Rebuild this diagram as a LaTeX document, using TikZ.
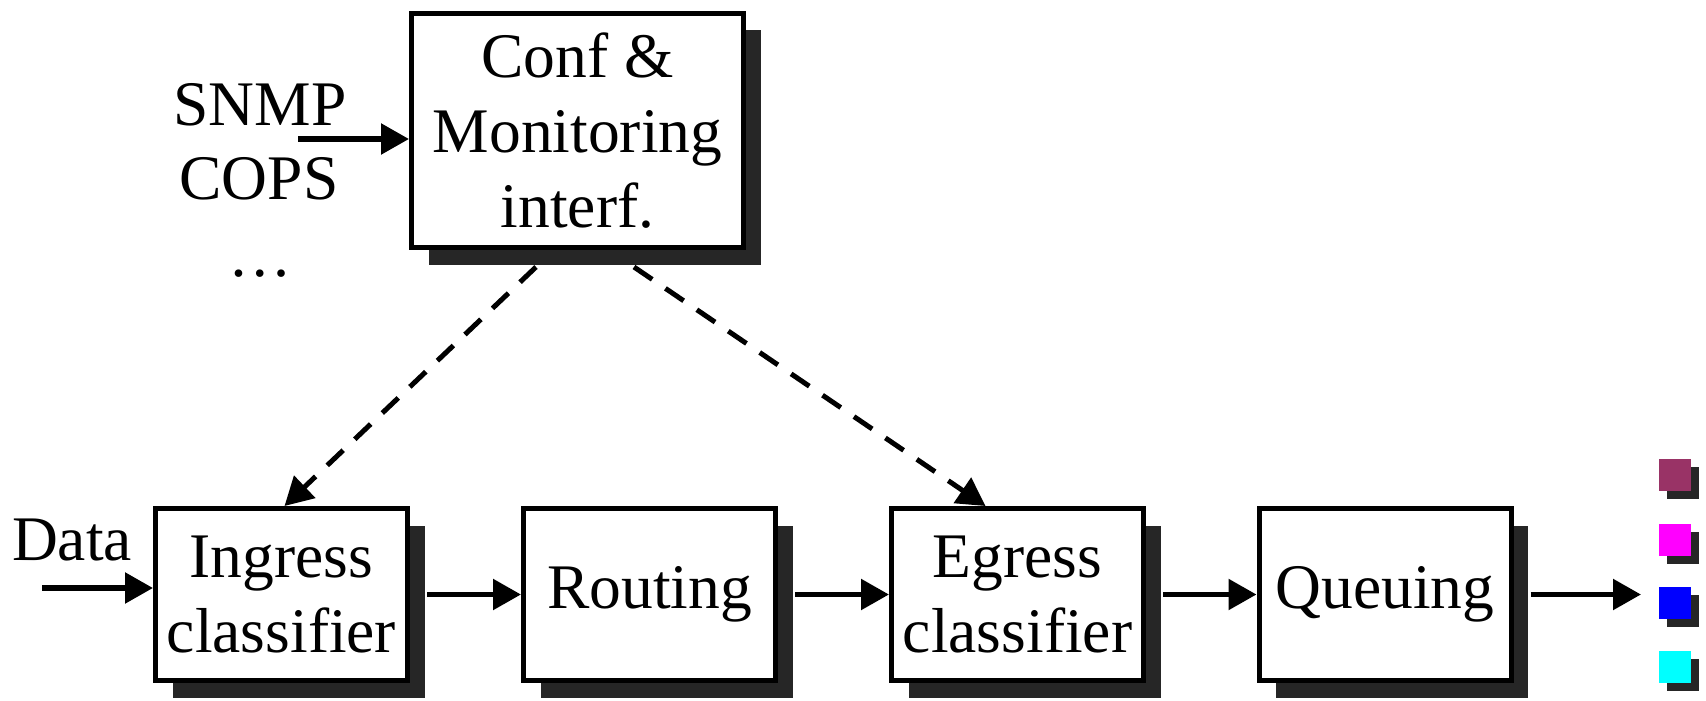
\documentclass[tikz,border=0pt]{standalone}
\usepackage{fontspec}
\setmainfont{Liberation Serif}
\usetikzlibrary{arrows.meta,shadows,calc}
\definecolor{shade}{HTML}{262626}
\definecolor{sqmaroon}{HTML}{993366}
\definecolor{sqmagenta}{HTML}{FF00FF}
\definecolor{sqblue}{HTML}{0000FF}
\definecolor{sqcyan}{HTML}{00FFFF}
\newcommand\diagfont{\fontsize{63.5}{75}\selectfont}
\begin{document}
\begin{tikzpicture}[x=1pt,y=-1pt,
  box/.style={draw=black, line width=5pt, fill=white, minimum width=252pt,
    minimum height=172pt, align=center, inner sep=0pt, font=\diagfont,
    drop shadow={shadow xshift=17pt, shadow yshift=-17pt, fill=shade, opacity=1}},
  sq/.style={minimum size=32pt, inner sep=0pt,
    drop shadow={shadow xshift=8pt, shadow yshift=-8pt, fill=shade, opacity=1}},
  lbl/.style={font=\diagfont, inner sep=0pt, anchor=base},
  arr/.style={line width=5.5pt, -{Triangle[length=28pt,width=30pt]}},
  darr/.style={arr, line width=5pt, dash pattern=on 22pt off 16pt}
]
\useasboundingbox (0,0) rectangle (1706,701);

\node[box, minimum width=332pt, minimum height=234pt] (conf) at (577.5,130.5)
  {Conf \&\\Monitoring\\interf.};

\node[box] (ingress) at (281.5,594.5) {Ingress\\classifier};
\node[box] (routing) at (649.5,594.5) {Routing};
\node[box] (egress) at (1017.5,594.5) {Egress\\classifier};
\node[box] (queuing) at (1385,594.5) {Queuing};

\node[lbl] (snmp) at (260,125) {SNMP};
\node[lbl] (cops) at (259,199) {COPS};
\node[lbl] (dots) at (260,276) {…};
\node[lbl] (data) at (72,560) {Data};

\coordinate (sin) at (298,139);
\draw[arr] (sin) -- (sin -| conf.west);

\coordinate (din) at (42,588);
\draw[arr] (din) -- (din -| ingress.west);

\draw[arr] ($(ingress.east)+(17,0)$) -- (routing.west);
\draw[arr] ($(routing.east)+(17,0)$) -- (egress.west);
\draw[arr] ($(egress.east)+(17,0)$) -- (queuing.west);
\coordinate (out) at (1641,594.5);
\draw[arr] ($(queuing.east)+(17,0)$) -- (out);

\coordinate (d1) at ($(conf.south)+(-41.5,17)$);
\coordinate (d2) at ($(conf.south)+(56.5,17)$);
\draw[darr] (d1) -- ($(ingress.north)+(3,0)$);
\draw[darr] (d2) -- ($(egress.north)+(-32,0)$);

\node[sq, fill=sqmaroon] (s1) at (1675,475) {};
\node[sq, fill=sqmagenta] (s2) at (1675,540) {};
\node[sq, fill=sqblue] (s3) at (1675,603) {};
\node[sq, fill=sqcyan] (s4) at (1675,667) {};
\end{tikzpicture}
\end{document}
